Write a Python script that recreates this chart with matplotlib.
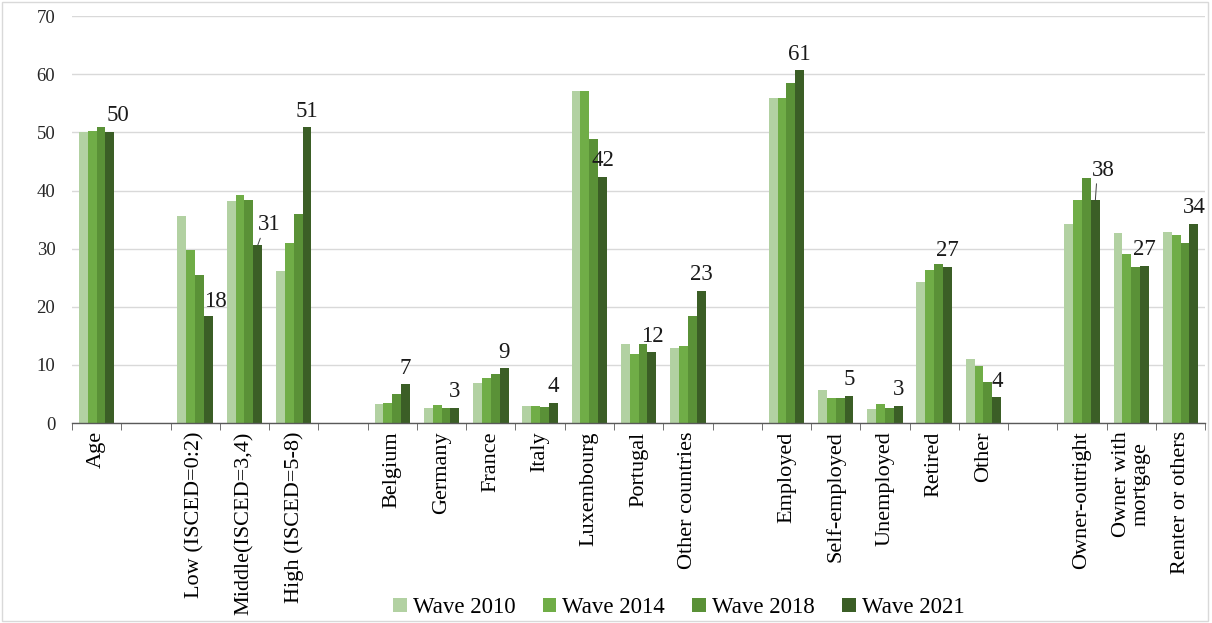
import numpy as np
import matplotlib.pyplot as plt
from matplotlib.patches import Rectangle

plt.rcParams['font.family'] = ['Liberation Serif', 'DejaVu Serif']

# categories ("" = empty spacer slot)
categories = ["Age", "",
              "Low (ISCED=0:2)", "Middle(ISCED=3,4)", "High (ISCED=5-8)", "",
              "Belgium", "Germany", "France", "Italy", "Luxembourg", "Portugal",
              "Other countries", "",
              "Employed", "Self-employed", "Unemployed", "Retired", "Other", "",
              "Owner-outright", "Owner with\nmortgage", "Renter or others"]

nan = np.nan
wave_2010 = [50.0, nan, 35.6, 38.2, 26.1, nan, 3.3, 2.6, 6.8, 3.0, 57.1, 13.6, 12.9, nan,
             56.0, 5.7, 2.4, 24.3, 11.0, nan, 34.2, 32.7, 32.8]
wave_2014 = [50.3, nan, 29.7, 39.3, 30.9, nan, 3.4, 3.1, 7.8, 3.0, 57.1, 11.8, 13.2, nan,
             56.0, 4.3, 3.2, 26.3, 9.8, nan, 38.4, 29.0, 32.3]
wave_2018 = [50.9, nan, 25.5, 38.4, 35.9, nan, 5.0, 2.5, 8.4, 2.8, 48.9, 13.6, 18.4, nan,
             58.5, 4.3, 2.5, 27.3, 7.1, nan, 42.1, 26.8, 30.9]
wave_2021 = [50.1, nan, 18.4, 30.6, 50.9, nan, 6.7, 2.6, 9.4, 3.5, 42.4, 12.2, 22.8, nan,
             60.7, 4.7, 3.0, 26.9, 4.4, nan, 38.3, 27.1, 34.3]

series = {"Wave 2010": wave_2010, "Wave 2014": wave_2014,
          "Wave 2018": wave_2018, "Wave 2021": wave_2021}
colors = ["#b2d1a2", "#70ad47", "#5a9137", "#3b5e26"]

# label tweaks for the 2021 labels (offset in points, leader line)
label_offsets = {0: (6, 4), 2: (5, 3), 3: (8, 7, True), 20: (6, 14, True)}

fig = plt.figure(figsize=(12.12, 6.23), dpi=100)
ax = fig.add_axes([0.0594, 0.321, 0.935, 0.653])

x = np.arange(len(categories))
w = 0.18
for i, (name, vals) in enumerate(series.items()):
    ax.bar(x + (i - 1.5) * w, vals, width=w, color=colors[i], label=name, zorder=2)

# data labels on Wave 2021
for k, v in enumerate(wave_2021):
    if np.isnan(v):
        continue
    bx = x[k] + 1.5 * w
    off = label_offsets.get(k, (0, 4))
    dx, dy = off[0], off[1]
    lead = len(off) > 2 and off[2]
    ax.annotate(f"{round(v):d}", xy=(bx, v), xytext=(dx, dy), textcoords='offset points',
                ha='center', va='bottom', fontsize=16.5, color='#1a1a1a',
                arrowprops=dict(arrowstyle='-', color='#404040', lw=0.7,
                                shrinkA=0, shrinkB=0, relpos=(0.2, 0.1)) if lead else None,
                zorder=3)

ax.set_xlim(-0.5, len(categories) - 0.5)
ax.set_ylim(0, 70)
ax.set_yticks(np.arange(0, 71, 10))
ax.yaxis.grid(True, color='#d9d9d9', lw=1, zorder=0)
ax.set_axisbelow(True)

ax.set_xticks(x)
ax.set_xticklabels(categories, rotation=90, fontsize=16, va='top', ha='center',
                   linespacing=1.0)
ax.set_xticks(np.arange(-0.5, len(categories)), minor=True)
ax.tick_params(axis='x', which='major', length=0, pad=6)
ax.tick_params(axis='x', which='minor', length=5, color='#595959', direction='out')
ax.tick_params(axis='y', length=0, labelsize=13.5, pad=12, labelcolor='#262626')

for s in ['top', 'right', 'left']:
    ax.spines[s].set_visible(False)
ax.spines['bottom'].set_color('#595959')
ax.spines['bottom'].set_linewidth(1)

fig.legend(loc='lower center', bbox_to_anchor=(0.56, -0.025), ncol=4, frameon=False,
           fontsize=16.5, handlelength=0.6, handleheight=0.6, handletextpad=0.25,
           columnspacing=1.2)

fig.patches.append(Rectangle((0.002, 0.003), 0.995, 0.993, transform=fig.transFigure,
                             fill=False, edgecolor='#d9d9d9', lw=1))

fig.savefig("out.png", dpi=100)
